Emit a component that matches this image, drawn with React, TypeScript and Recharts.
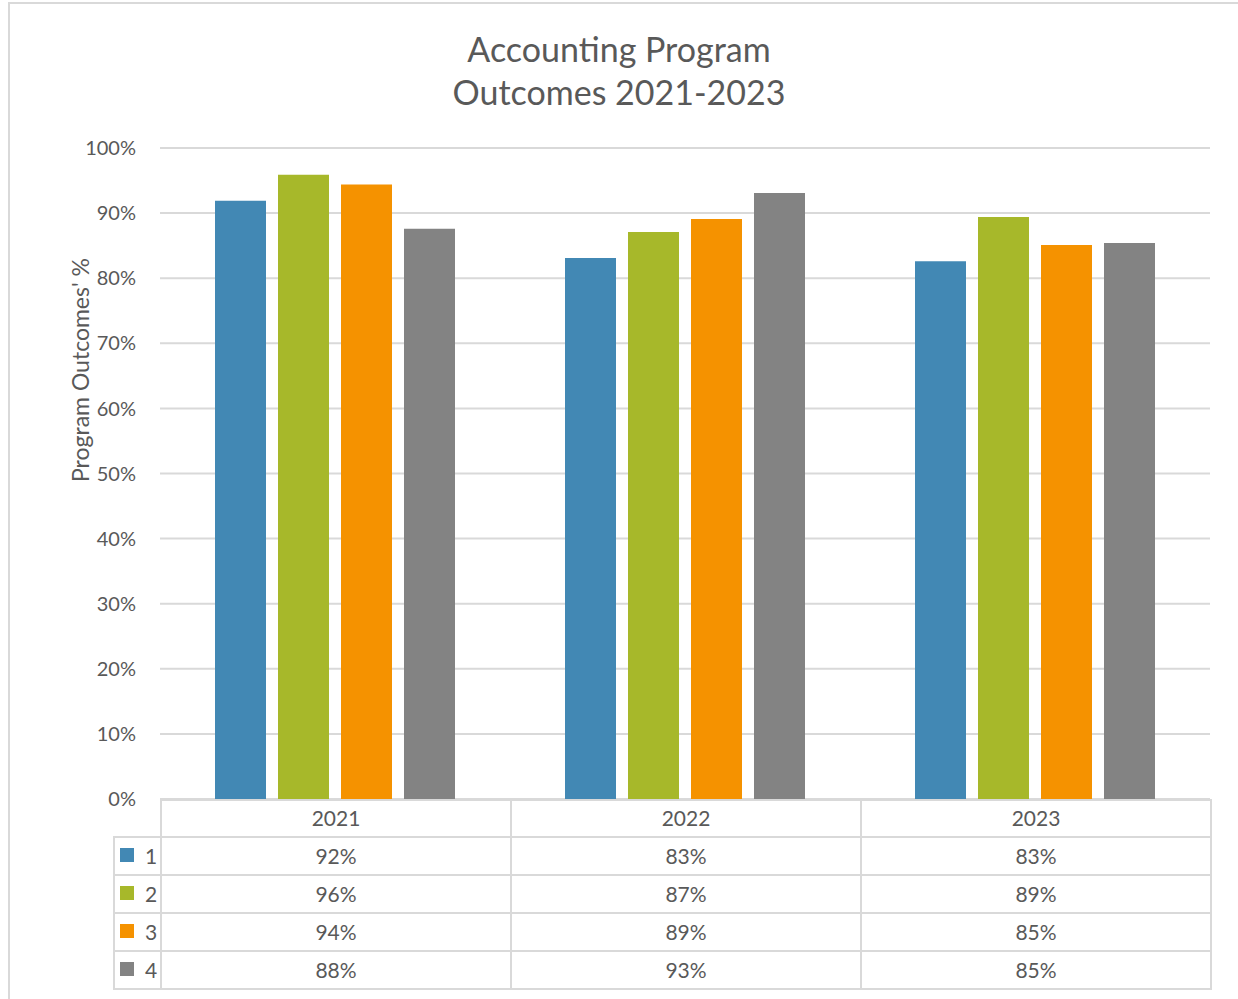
import React from 'react';
import { BarChart, Bar, XAxis, YAxis, CartesianGrid } from 'recharts';

const years = ['2021', '2022', '2023'];
const outcome1 = [91.9, 83.1, 82.6];
const outcome2 = [95.9, 87.1, 89.4];
const outcome3 = [94.4, 89.1, 85.1];
const outcome4 = [87.6, 93.1, 85.4];
const yTicks = [0, 10, 20, 30, 40, 50, 60, 70, 80, 90, 100];

const seriesNames = ['1', '2', '3', '4'];
const seriesValues = [outcome1, outcome2, outcome3, outcome4];
const colors = ['#4288b4', '#a7b82a', '#f59200', '#838383'];

const data = years.map((year, i) => ({
  year,
  s1: outcome1[i],
  s2: outcome2[i],
  s3: outcome3[i],
  s4: outcome4[i],
}));

const FONT = 'Lato, "Open Sans", sans-serif';
const TEXT = '#595959';
const LINE = '#d9d9d9';

// plot geometry (page coords)
const PLOT_LEFT = 160;
const PLOT_RIGHT = 1210;
const PLOT_TOP = 148;
const PLOT_BOTTOM = 799;
const COL_W = (PLOT_RIGHT - PLOT_LEFT) / years.length;
const LEGEND_LEFT = 113;
const ROW_H = [37, 38, 38, 38, 38];

const DataTable: React.FC = () => {
  const rows = [{ label: null as string | null, cells: years, color: '' }].concat(
    seriesNames.map((name, s) => ({
      label: name,
      cells: seriesValues[s].map((v) => `${Math.round(v)}%`),
      color: colors[s],
    }))
  );
  let top = PLOT_BOTTOM;
  return (
    <>
      {rows.map((row, r) => {
        const h = ROW_H[r];
        const y = top;
        top += h;
        return (
          <React.Fragment key={r}>
            {row.label !== null && (
              <div
                style={{
                  position: 'absolute',
                  left: LEGEND_LEFT,
                  top: y,
                  width: PLOT_LEFT - LEGEND_LEFT,
                  height: h + 2,
                  boxSizing: 'border-box',
                  border: `2px solid ${LINE}`,
                  borderRight: 'none',
                  display: 'flex',
                  alignItems: 'center',
                  paddingLeft: 5,
                  paddingBottom: 2,
                  color: TEXT,
                  fontSize: 21,
                }}
              >
                <span
                  style={{ width: 14, height: 14, background: row.color, display: 'inline-block', marginRight: 11 }}
                />
                {row.label}
              </div>
            )}
            {row.cells.map((c, i) => (
              <div
                key={i}
                style={{
                  position: 'absolute',
                  left: PLOT_LEFT + i * COL_W,
                  top: y,
                  width: COL_W + 2,
                  height: h + 2,
                  boxSizing: 'border-box',
                  border: `2px solid ${LINE}`,
                  display: 'flex',
                  alignItems: 'center',
                  justifyContent: 'center',
                  paddingBottom: 2,
                  color: TEXT,
                  fontSize: 21,
                }}
              >
                {c}
              </div>
            ))}
          </React.Fragment>
        );
      })}
    </>
  );
};

export default function App() {
  return (
    <div
      style={{
        position: 'absolute',
        left: 0,
        top: 0,
        width: 1238,
        height: 999,
        overflow: 'hidden',
        background: '#fff',
        fontFamily: FONT,
      }}
    >
      <div
        style={{
          position: 'absolute',
          left: 8,
          top: 2,
          width: 1250,
          height: 1020,
          border: `2px solid ${LINE}`,
        }}
      />
      <div
        style={{
          position: 'absolute',
          left: 0,
          width: 1238,
          top: 27,
          textAlign: 'center',
          color: TEXT,
          fontSize: 34,
          lineHeight: '43px',
        }}
      >
        Accounting Program
        <br />
        Outcomes 2021-2023
      </div>
      <div
        style={{
          position: 'absolute',
          left: 80,
          top: 370,
          transform: 'translate(-50%, -50%) rotate(-90deg)',
          whiteSpace: 'nowrap',
          color: TEXT,
          fontSize: 23,
        }}
      >
        Program Outcomes' %
      </div>
      <div style={{ position: 'absolute', left: 0, top: 0 }}>
        <BarChart
          width={1238}
          height={999}
          data={data}
          margin={{ top: PLOT_TOP, right: 1238 - PLOT_RIGHT, bottom: 999 - PLOT_BOTTOM, left: PLOT_LEFT - 70 }}
          barSize={51}
          barGap={12}
        >
          <CartesianGrid vertical={false} stroke={LINE} strokeWidth={2} />
          <XAxis dataKey="year" hide />
          <YAxis
            width={70}
            domain={[0, 100]}
            ticks={yTicks}
            tickFormatter={(v) => `${v}%`}
            axisLine={false}
            tickLine={false}
            tickSize={0}
            tickMargin={24}
            tick={{ fill: TEXT, fontSize: 20, fontFamily: FONT }}
            interval={0}
          />
          {['s1', 's2', 's3', 's4'].map((k, i) => (
            <Bar key={k} dataKey={k} fill={colors[i]} isAnimationActive={false} />
          ))}
        </BarChart>
      </div>
      <DataTable />
    </div>
  );
}
